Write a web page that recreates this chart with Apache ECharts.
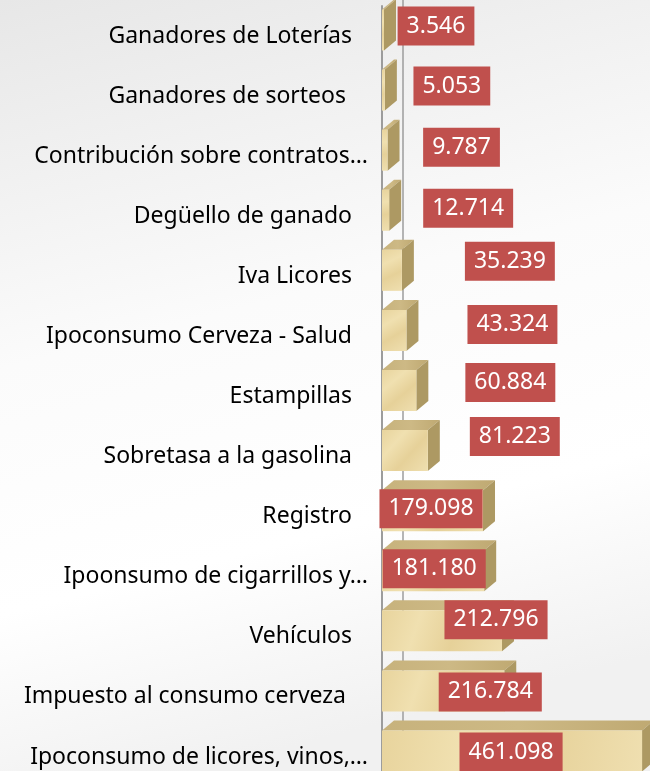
<!DOCTYPE html>
<html>
<head>
<meta charset="utf-8">
<script src="https://cdn.jsdelivr.net/npm/echarts@6/dist/echarts.min.js"></script>
<style>
  html, body { margin: 0; padding: 0; }
  #main { width: 650px; height: 771px; }
</style>
</head>
<body>
<div id="main"></div>
<script>
// categorías (de arriba hacia abajo)
var categories = [
  "Ganadores de Loterías",
  "Ganadores de sorteos ",
  "Contribución sobre contratos…",
  "Degüello de ganado",
  "Iva Licores",
  "Ipoconsumo Cerveza - Salud",
  "Estampillas",
  "Sobretasa a la gasolina",
  "Registro",
  "Ipoonsumo de cigarrillos y…",
  "Vehículos",
  "Impuesto al consumo cerveza ",
  "Ipoconsumo de licores, vinos,…"
];
var values = [3546, 5053, 9787, 12714, 35239, 43324, 60884, 81223, 179098, 181180, 212796, 216784, 461098];

// desplazamiento de las etiquetas respecto al final de la barra (px)
var labelDx = [52, 67, 74, 79, 108, 106, 94, 87, -52, -50, -6, -14, -131];
var labelDy = [-4, -4, -3, -2, -9, -6, -8, -14, -2, -2, -11, 1, 1];

function fmt(v) {
  return String(v).replace(/\B(?=(\d{3})+(?!\d))/g, ".");
}

var myChart = echarts.init(document.getElementById("main"));

function renderItem(params, api) {
  var idx = api.value(0);
  var val = api.value(1);
  var base = api.coord([0, idx]);
  var end = api.coord([val, idx]);
  var x0 = base[0], x1 = end[0];
  var cy = base[1] - 6;
  var h = 41, dx = 12, dy = 10;
  var t = cy - h / 2, b = cy + h / 2;
  var children = [];
  if (params.dataIndex === 0) {
    var cs = params.coordSys;
    children.push({
      type: "line",
      shape: { x1: x0 + 21, y1: cs.y - 10, x2: x0 + 21, y2: cs.y + cs.height },
      style: { stroke: "#9c9c9c", lineWidth: 1.5 }
    });
  }
  // cara superior
  children.push({
    type: "polygon",
    shape: { points: [[x0, t], [x0 + dx, t - dy], [x1 + dx, t - dy], [x1, t]] },
    style: {
      fill: new echarts.graphic.LinearGradient(0, 0, 1, 0, [
        { offset: 0, color: "#c7b27c" },
        { offset: 0.5, color: "#cdb985" },
        { offset: 1, color: "#bfa972" }
      ])
    }
  });
  // cara lateral
  children.push({
    type: "polygon",
    shape: { points: [[x1, t], [x1 + dx, t - dy], [x1 + dx, b - dy], [x1, b]] },
    style: { fill: "#ad9963" }
  });
  // cara frontal
  children.push({
    type: "rect",
    shape: { x: x0, y: t, width: Math.max(x1 - x0, 0.5), height: h },
    style: {
      fill: new echarts.graphic.LinearGradient(0, 0, 1, 1, [
        { offset: 0, color: "#e8d49d" },
        { offset: 0.3, color: "#f0e0b0" },
        { offset: 0.6, color: "#e6d199" },
        { offset: 1, color: "#efdfb0" }
      ])
    }
  });
  // etiqueta
  children.push({
    type: "text",
    z2: 10,
    style: {
      text: fmt(val),
      x: x1 + labelDx[idx],
      y: cy + labelDy[idx],
      align: "center",
      verticalAlign: "middle",
      fill: "#ffffff",
      font: "23px 'Noto Sans'",
      backgroundColor: "#c0504d",
      padding: [8, 9, 8, 9]
    }
  });
  return { type: "group", children: children };
}

var option = {
  backgroundColor: new echarts.graphic.LinearGradient(0, 0, 0.3, 1, [
    { offset: 0, color: "#e7e7e7" },
    { offset: 0.45, color: "#fbfbfb" },
    { offset: 0.75, color: "#ffffff" },
    { offset: 1, color: "#f1f1f1" }
  ]),
  animation: false,
  grid: { left: 382, top: 6, width: 282, height: 781, outerBoundsMode: "none", containLabel: false },
  xAxis: {
    type: "value",
    min: 0,
    max: 500000,
    show: false
  },
  yAxis: {
    type: "category",
    inverse: true,
    data: categories,
    offset: 7,
    axisLine: { show: true, lineStyle: { color: "#9c9c9c", width: 2 } },
    axisTick: { show: false },
    axisLabel: {
      margin: 7,
      color: "#000000",
      fontSize: 23,
      fontFamily: "Noto Sans",
      formatter: function (v) {
        return v.slice(-1) === "…" ? "{t|" + v + "}" : "{n|" + v + "}";
      },
      rich: {
        n: { fontSize: 23, fontFamily: "Noto Sans", color: "#000000", padding: [0, 16, 0, 0] },
        t: { fontSize: 23, fontFamily: "Noto Sans", color: "#000000" }
      }
    },
    splitLine: { show: false }
  },
  series: [{
    type: "custom",
    renderItem: renderItem,
    clip: false,
    encode: { x: 1, y: 0 },
    data: values.map(function (v, i) { return [i, v]; })
  }]
};
myChart.setOption(option);
</script>
</body>
</html>
